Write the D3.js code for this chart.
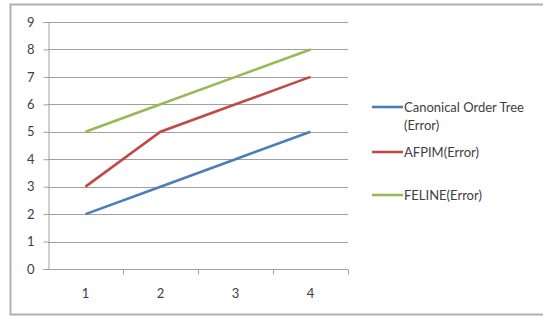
<!DOCTYPE html>
<meta charset="utf-8">
<script src="https://d3js.org/d3.v7.min.js"></script>
<style>
  body { margin: 0; background: #fff; }
  text { font-family: Lato, "Open Sans", sans-serif; fill: #404040; }
</style>
<div id="my_dataviz"></div>
<script>

    // data
    var categories = ["1", "2", "3", "4"];
    var seriesNames = ["Canonical Order Tree (Error)", "AFPIM(Error)", "FELINE(Error)"];
    var canonical = [2, 3, 4, 5];
    var afpim = [3, 5, 6, 7];
    var feline = [5, 6, 7, 8];
    var yTicks = [0, 1, 2, 3, 4, 5, 6, 7, 8, 9];
    var colors = ["#4a7ebb", "#be4b48", "#98b954"];

    var W = 543, H = 318;
    var margin = { top: 22, right: 195, bottom: 49, left: 48 },
        width = 348 - margin.left,
        height = 269 - margin.top;

    var root = d3.select("#my_dataviz")
        .append("svg")
        .attr("width", W)
        .attr("height", H);

    // outer frame (right side runs off the picture)
    root.append("rect")
        .attr("x", 10.5).attr("y", 4.5)
        .attr("width", 545).attr("height", 310)
        .attr("fill", "none")
        .attr("stroke", "#b0b0b0")
        .attr("stroke-width", 2);

    var svg = root.append("g")
        .attr("transform", "translate(" + margin.left + "," + margin.top + ")");

    var x = d3.scaleBand().domain(categories).range([0, width]);
    var y = d3.scaleLinear().domain([0, 9]).range([height, 0]);

    // gridlines
    svg.selectAll(".grid")
        .data(yTicks.filter(function (d) { return d > 0; }))
        .enter().append("line")
        .attr("x1", 0).attr("x2", width)
        .attr("y1", function (d) { return Math.round(y(d)) + 0.5; })
        .attr("y2", function (d) { return Math.round(y(d)) + 0.5; })
        .attr("stroke", "#a0a0a0");

    // Y axis
    var yAxis = svg.append("g")
        .attr("transform", "translate(0.5,0)")
        .call(d3.axisLeft(y).tickValues(yTicks).tickSize(5).tickPadding(9));
    yAxis.select(".domain").attr("stroke", "#a0a0a0");
    yAxis.selectAll("line").attr("stroke", "#a0a0a0");
    yAxis.selectAll("text").style("font-size", "13px").attr("fill", "#404040");

    // X axis (ticks at band boundaries)
    var xg = svg.append("g").attr("transform", "translate(0," + (Math.round(height) + 0.5) + ")");
    xg.append("line").attr("x1", 0).attr("x2", width).attr("stroke", "#a0a0a0");
    xg.selectAll(".tk")
        .data(categories)
        .enter().append("line")
        .attr("x1", function (d) { return Math.round(x(d) + x.bandwidth()) + 0.5; })
        .attr("x2", function (d) { return Math.round(x(d) + x.bandwidth()) + 0.5; })
        .attr("y1", 0).attr("y2", 5)
        .attr("stroke", "#a0a0a0");
    xg.selectAll(".lb")
        .data(categories)
        .enter().append("text")
        .attr("x", function (d) { return x(d) + x.bandwidth() / 2; })
        .attr("y", 28)
        .attr("text-anchor", "middle")
        .style("font-size", "13px")
        .text(function (d) { return d; });

    // lines
    var series = [canonical, afpim, feline];
    var line = d3.line()
        .x(function (d, i) { return x(categories[i]) + x.bandwidth() / 2; })
        .y(function (d) { return y(d); });
    series.forEach(function (s, i) {
        svg.append("path")
            .datum(s)
            .attr("fill", "none")
            .attr("stroke", colors[i])
            .attr("stroke-width", 2.6)
            .attr("d", line);
    });

    // legend
    var legY = [107, 152, 195];
    var leg = root.append("g");
    seriesNames.forEach(function (name, i) {
        leg.append("line")
            .attr("x1", 372).attr("x2", 403)
            .attr("y1", legY[i]).attr("y2", legY[i])
            .attr("stroke", colors[i])
            .attr("stroke-width", 2.6);
        var t = leg.append("text")
            .attr("x", 404)
            .attr("y", legY[i] + 5)
            .style("font-size", "13px");
        if (i === 0) {
            t.append("tspan").text("Canonical Order Tree");
            t.append("tspan").attr("x", 404).attr("dy", 18).text("(Error)");
        } else {
            t.text(name);
        }
    });

</script>
